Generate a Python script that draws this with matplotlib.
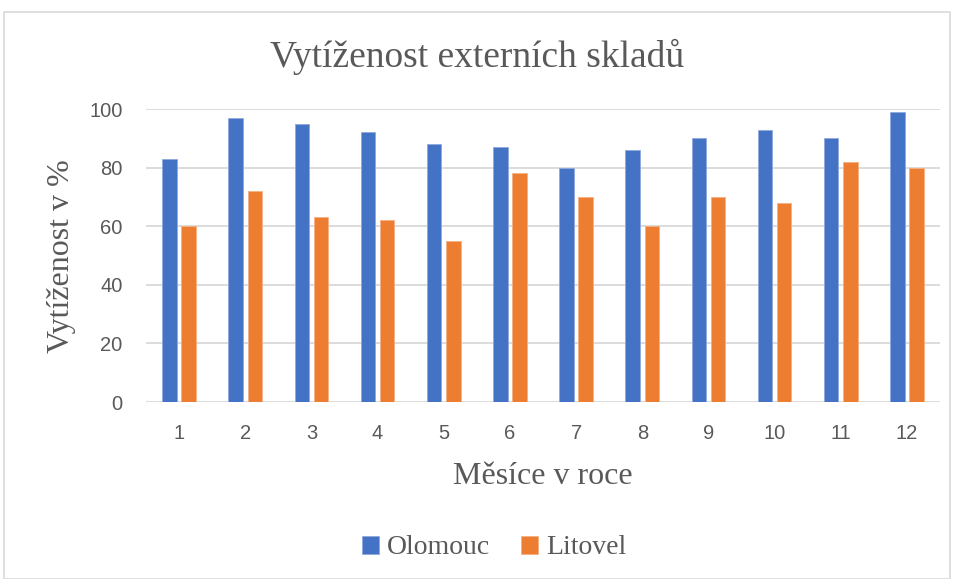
import numpy as np
import matplotlib

matplotlib.use("Agg")
import matplotlib.pyplot as plt
from matplotlib.patches import Rectangle

months = [str(m) for m in range(1, 13)]
olomouc = [83, 97, 95, 92, 88, 87, 80, 86, 90, 93, 90, 99]
litovel = [60, 72, 63, 62, 55, 78, 70, 60, 70, 68, 82, 80]

BLUE = "#4472C4"
ORANGE = "#ED7D31"
TEXT = "#595959"
GRID = "#D9D9D9"
SERIF = "Liberation Serif"
SANS = "Liberation Sans"

W, H = 954, 579
fig = plt.figure(figsize=(W / 100, H / 100), dpi=100)
fig.patches.append(Rectangle((4 / W, 0), (W - 8) / W, (H - 12) / H,
                             transform=fig.transFigure, fill=False,
                             edgecolor=GRID, lw=1.2))

ax = fig.add_axes([146 / W, 1 - 402 / H, (940 - 146) / W, (402 - 109) / H])
x = np.arange(len(months))
bw = 0.22
ax.bar(x - 0.145, olomouc, bw, color=BLUE, edgecolor="#8FAADC", lw=0.6,
       label="Olomouc", zorder=3)
ax.bar(x + 0.145, litovel, bw, color=ORANGE, edgecolor="#F4B183", lw=0.6,
       label="Litovel", zorder=3)

ax.set_xlim(-0.5, len(months) - 0.5)
ax.set_ylim(0, 100)
ax.set_yticks(range(0, 101, 20))
ax.set_xticks(x)
ax.set_xticklabels(months)
ax.grid(axis="y", color=GRID, lw=1.3, zorder=0)
for s in ax.spines.values():
    s.set_visible(False)
ax.tick_params(length=0, labelsize=14.5, labelcolor=TEXT, pad=15.5)
ax.tick_params(axis="y", pad=17)
for lab in ax.get_xticklabels() + ax.get_yticklabels():
    lab.set_fontfamily(SANS)

fig.text(0.5, 1 - 57 / H, "Vytíženost externích skladů", ha="center",
         va="center", fontsize=27, family=SERIF, color=TEXT)
fig.text(543 / W, 1 - 476 / H, "Měsíce v roce", ha="center", va="center",
         fontsize=23, family=SERIF, color=TEXT)
fig.text(62 / W, 1 - 256 / H, "Vytíženost v %", ha="center", va="center",
         rotation=90, fontsize=23, family=SERIF, color=TEXT)

leg = fig.legend(loc="center", bbox_to_anchor=(0.518, 1 - 548 / H), ncol=2,
                 frameon=False, prop={"family": SERIF, "size": 20},
                 handlelength=0.6, handleheight=0.6, handletextpad=0.3,
                 columnspacing=1.1)
for t in leg.get_texts():
    t.set_color(TEXT)

fig.savefig("out.png", dpi=100)
